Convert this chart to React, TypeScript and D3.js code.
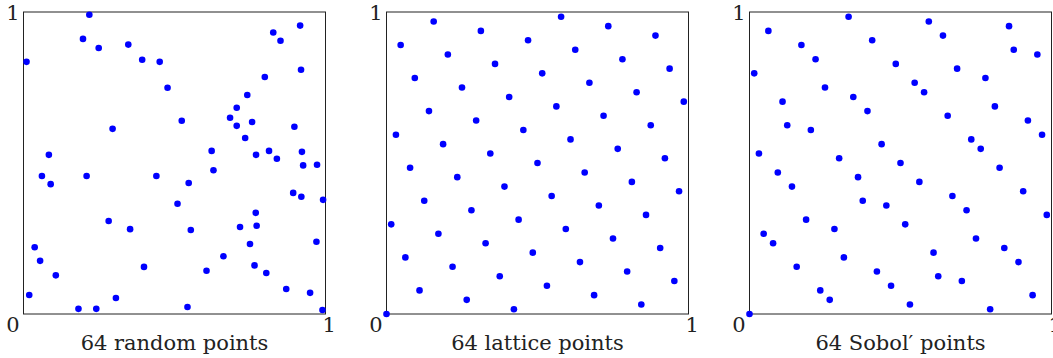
import React, { useEffect, useRef } from 'react';
import * as d3 from 'd3';

// 64 random points (unit square)
const randomX = [
  0.218, 0.197, 0.249, 0.010, 0.347, 0.393, 0.451, 0.477, 0.295, 0.084,
  0.916, 0.827, 0.851, 0.919, 0.799, 0.741, 0.706, 0.684, 0.706, 0.757,
  0.524, 0.897, 0.734, 0.623, 0.770, 0.813, 0.839, 0.922, 0.926, 0.972,
  0.629, 0.061, 0.090, 0.209, 0.440, 0.510, 0.282, 0.353, 0.037, 0.055,
  0.107, 0.019, 0.182, 0.241, 0.306, 0.399, 0.547, 0.893, 0.920, 0.992,
  0.769, 0.717, 0.772, 0.554, 0.750, 0.970, 0.662, 0.606, 0.765, 0.804,
  0.870, 0.949, 0.543, 0.990
];
const randomY = [
  0.991, 0.911, 0.881, 0.835, 0.892, 0.842, 0.835, 0.749, 0.613, 0.527,
  0.955, 0.932, 0.905, 0.809, 0.785, 0.725, 0.683, 0.650, 0.623, 0.636,
  0.640, 0.620, 0.583, 0.540, 0.527, 0.540, 0.514, 0.537, 0.492, 0.494,
  0.476, 0.457, 0.430, 0.457, 0.457, 0.365, 0.308, 0.281, 0.221, 0.176,
  0.128, 0.063, 0.017, 0.017, 0.053, 0.156, 0.434, 0.401, 0.388, 0.378,
  0.335, 0.288, 0.292, 0.278, 0.232, 0.239, 0.191, 0.143, 0.161, 0.136,
  0.083, 0.070, 0.023, 0.013
];

// lattice points, in 64ths
const latticeX = [
  0, 1, 2, 3, 4, 5, 6, 7, 8, 9, 10, 11, 12, 13, 14, 15,
  16, 17, 18, 19, 20, 21, 22, 23, 24, 25, 26, 27, 28, 29, 30, 31,
  32, 33, 34, 35, 36, 37, 38, 39, 40, 41, 42, 43, 44, 45, 46, 47,
  48, 49, 50, 51, 52, 53, 54, 55, 56, 57, 58, 59, 60, 61, 62, 63
];
const latticeY = [
  0, 19, 38, 57, 12, 31, 50, 5, 24, 43, 62, 17, 36, 55, 10, 29,
  48, 3, 22, 41, 60, 15, 34, 53, 8, 27, 46, 1, 20, 39, 58, 13,
  32, 51, 6, 25, 44, 63, 18, 37, 56, 11, 30, 49, 4, 23, 42, 61,
  16, 35, 54, 9, 28, 47, 2, 21, 40, 59, 14, 33, 52, 7, 26, 45
];

// Sobol' points, in 64ths
const sobolX = [
  0, 32, 16, 48, 8, 40, 24, 56, 4, 36, 20, 52, 12, 44, 28, 60,
  2, 34, 18, 50, 10, 42, 26, 58, 6, 38, 22, 54, 14, 46, 30, 62,
  1, 33, 17, 49, 9, 41, 25, 57, 5, 37, 21, 53, 13, 45, 29, 61,
  3, 35, 19, 51, 11, 43, 27, 59, 7, 39, 23, 55, 15, 47, 31, 63
];
const sobolY = [
  0, 32, 48, 16, 40, 8, 24, 56, 60, 28, 12, 44, 20, 52, 36, 4,
  34, 2, 18, 50, 10, 42, 58, 26, 30, 62, 46, 14, 54, 22, 6, 38,
  51, 19, 3, 35, 27, 59, 43, 11, 15, 47, 63, 31, 39, 7, 23, 55,
  17, 49, 33, 1, 57, 25, 9, 41, 45, 13, 29, 61, 5, 37, 53, 21
];

const titles = ['64 random points', '64 lattice points', '64 Sobol\u2032 points'];

const App = () => {
  const ref = useRef<SVGSVGElement>(null);

  useEffect(() => {
    if (!ref.current) return;
    const W = 1053, H = 358;
    const size = 302, top = 12, left0 = 23.5, step = 363;

    const svg = d3.select(ref.current);
    svg.selectAll('*').remove();
    svg.attr('width', W).attr('height', H);

    const panels = [
      { xs: randomX, ys: randomY, unit: 1 },
      { xs: latticeX, ys: latticeY, unit: 64 },
      { xs: sobolX, ys: sobolY, unit: 64 }
    ];

    panels.forEach((p, k) => {
      const left = left0 + k * step;
      const x = d3.scaleLinear().domain([0, p.unit]).range([left, left + size]);
      const y = d3.scaleLinear().domain([0, p.unit]).range([top + size, top]);
      const g = svg.append('g');

      g.append('rect')
        .attr('x', x(0)).attr('y', y(p.unit))
        .attr('width', x(p.unit) - x(0)).attr('height', y(0) - y(p.unit))
        .attr('fill', 'none').attr('stroke', '#222').attr('stroke-width', 1);

      g.selectAll('circle')
        .data(d3.range(p.xs.length))
        .enter().append('circle')
        .attr('cx', i => x(p.xs[i]))
        .attr('cy', i => y(p.ys[i]))
        .attr('r', 3.3)
        .attr('fill', '#0000ff');

      const txt = (s: string, tx: number, ty: number, anchor: string, size = 21) =>
        g.append('text')
          .attr('x', tx).attr('y', ty)
          .attr('text-anchor', anchor)
          .attr('font-family', '"DejaVu Serif", serif')
          .attr('font-size', size)
          .attr('fill', '#222')
          .text(s);

      txt('1', x(0) - 4, y(p.unit) + 8, 'end');
      txt('0', x(0) - 4, y(0) + 18, 'end');
      txt('1', x(p.unit) - 3, y(0) + 18, 'start');
      txt(titles[k], (x(0) + x(p.unit)) / 2, 350, 'middle');
    });
  }, []);

  return (
    <svg ref={ref} style={{ position: 'absolute', left: 0, top: 0, background: '#fff' }} />
  );
};

export default App;
